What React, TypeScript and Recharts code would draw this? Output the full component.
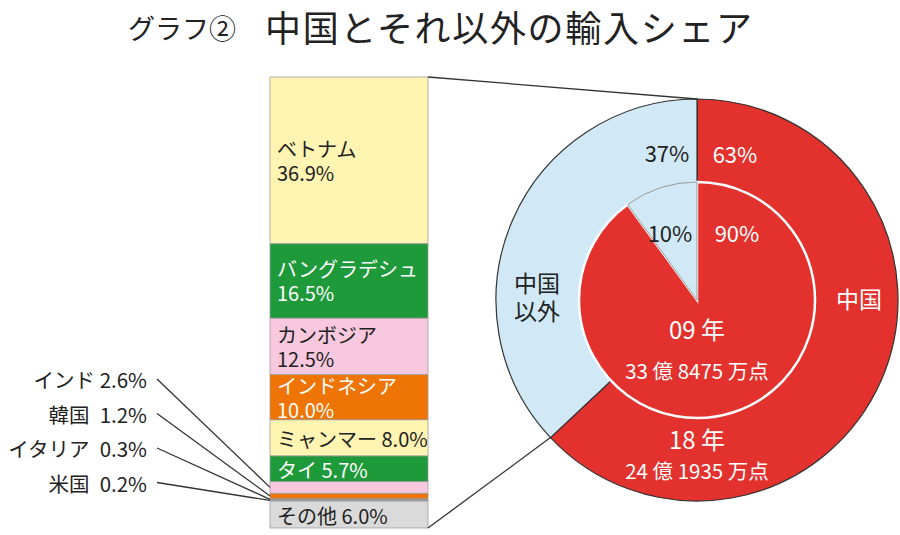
import React from 'react';
import { BarChart, Bar, XAxis, YAxis, LabelList, PieChart, Pie, Cell } from 'recharts';

const FONT = "'Noto Sans CJK JP', 'Noto Sans', sans-serif";

// ---- data ----
const countries = ['ベトナム', 'バングラデシュ', 'カンボジア', 'インドネシア', 'ミャンマー', 'タイ', 'インド', '韓国', 'イタリア', '米国', 'その他'];
const shares = [36.9, 16.5, 12.5, 10.0, 8.0, 5.7, 2.6, 1.2, 0.3, 0.2, 6.0];
const barColors = ['#FFF4B2', '#1E9A3B', '#F7C8DE', '#EE7405', '#FFF4B2', '#1E9A3B', '#F7C8DE', '#EE7405', '#8C8C8C', '#B5B5B5', '#DADADA'];
const labelModes = ['two', 'two', 'two', 'two', 'one', 'one', 'out', 'out', 'out', 'out', 'one'];
const labelColors = ['#222', '#fff', '#222', '#fff', '#222', '#fff', '#222', '#222', '#222', '#222', '#222'];

const groups = ['中国', '中国以外'];
const share2018 = [63, 37];
const share2009 = [90, 10];
const years = ['09 年', '18 年'];
const totals = ['33 億 8475 万点', '24 億 1935 万点'];
const titleSub = 'グラフ②';
const titleMain = '中国とそれ以外の輸入シェア';

const RED = '#E3312D';
const BLUE = '#D1E9F6';

// ---- layout ----
const W = 900;
const H = 535;
const BAR_LEFT = 270;
const BAR_RIGHT = 428;
const BAR_TOP = 77;
const BAR_BOTTOM = 528;
const CX = 697;
const CY = 300;
const R_OUT = 201;
const R_IN = 118;

const total = shares.reduce((a, b) => a + b, 0);
const barRow: Record<string, number | string> = { name: '2018' };
countries.forEach((_, i) => { barRow['c' + i] = shares[i]; });
const barData = [barRow];

const outerData = groups.map((g, i) => ({ name: g, value: share2018[i] }));
const innerData = groups.map((g, i) => ({ name: g, value: share2009[i] }));

const outIdx = labelModes.map((m, i) => (m === 'out' ? i : -1)).filter((i) => i >= 0);

function makeLabel(i: number) {
  return (props: any) => {
    const x = Number(props.x);
    const y = Number(props.y);
    const h = Number(props.height);
    const mid = y + h / 2;
    const mode = labelModes[i];
    const color = labelColors[i];
    const pct = shares[i].toFixed(1) + '%';
    if (mode === 'two') {
      return (
        <g>
          <text x={x + 7} y={mid - 12} fill={color} fontSize={20} fontFamily={FONT} dominantBaseline="central">{countries[i]}</text>
          <text x={x + 7} y={mid + 12} fill={color} fontSize={20} fontFamily={FONT} dominantBaseline="central">{pct}</text>
        </g>
      );
    }
    if (mode === 'one') {
      return (
        <text x={x + 7} y={mid + 1} fill={color} fontSize={20} fontFamily={FONT} dominantBaseline="central">{countries[i] + ' ' + pct}</text>
      );
    }
    const k = outIdx.indexOf(i);
    const ly = 379 + k * 34.5;
    const spacer = countries[i].length <= 2 || countries[i] === 'イタリア' ? '\u2002' : ' ';
    return (
      <g>
        <text x={147} y={ly} fill={color} fontSize={20.5} fontFamily={FONT} textAnchor="end" dominantBaseline="central">{countries[i] + spacer + pct}</text>
        <line x1={157} y1={ly} x2={x} y2={mid} stroke="#333" strokeWidth={1.3} />
      </g>
    );
  };
}

export default function App() {
  const boundaryAngle = (90 - (share2018[0] / 100) * 360) * (Math.PI / 180);
  const bx = CX + R_OUT * Math.cos(boundaryAngle);
  const by = CY - R_OUT * Math.sin(boundaryAngle);
  const order = countries.map((_, i) => i).reverse();
  return (
    <div style={{ position: 'absolute', left: 0, top: 0, width: W, height: H, background: '#fff' }}>
      <div style={{ position: 'absolute', left: 0, top: 0 }}>
        <BarChart width={W} height={H} data={barData} margin={{ top: BAR_TOP, right: W - BAR_RIGHT, bottom: H - BAR_BOTTOM, left: BAR_LEFT }} barCategoryGap={0} barGap={0}>
          <XAxis dataKey="name" type="category" hide />
          <YAxis type="number" domain={[0, total]} hide width={0} />
          {order.map((i) => (
            <Bar key={i} dataKey={'c' + i} stackId="a" fill={barColors[i]} stroke="#9c9c9c" strokeWidth={0.8} isAnimationActive={false}>
              <LabelList dataKey={'c' + i} content={makeLabel(i)} />
            </Bar>
          ))}
        </BarChart>
      </div>
      <div style={{ position: 'absolute', left: 0, top: 0 }}>
        <PieChart width={W} height={H} margin={{ top: 0, right: 0, bottom: 0, left: 0 }}>
          <Pie data={outerData} dataKey="value" cx={CX} cy={CY} outerRadius={R_OUT} innerRadius={0} startAngle={90} endAngle={-270} stroke="#333" strokeWidth={1.2} isAnimationActive={false}>
            <Cell fill={RED} />
            <Cell fill={BLUE} />
          </Pie>
          <Pie data={innerData} dataKey="value" cx={CX} cy={CY} outerRadius={R_IN} innerRadius={0} startAngle={90} endAngle={-270} isAnimationActive={false}>
            <Cell fill={RED} stroke="#fff" strokeWidth={2.5} />
            <Cell fill={BLUE} stroke="#9a9a9a" strokeWidth={1} />
          </Pie>
        </PieChart>
      </div>
      <svg width={W} height={H} style={{ position: 'absolute', left: 0, top: 0, pointerEvents: 'none' }}>
        <text x={128} y={27} fontSize={27} fontFamily={FONT} fill="#222" dominantBaseline="central">{titleSub}</text>
        <text x={265} y={26} fontSize={36} fontFamily={FONT} fill="#222" dominantBaseline="central" textLength={487} lengthAdjust="spacing">{titleMain}</text>
        <line x1={BAR_RIGHT} y1={BAR_TOP} x2={CX} y2={CY - R_OUT} stroke="#333" strokeWidth={1.3} />
        <line x1={BAR_RIGHT} y1={BAR_BOTTOM} x2={bx} y2={by} stroke="#333" strokeWidth={1.3} />
        <text x={735} y={153} fontSize={22} fontFamily={FONT} fill="#fff" textAnchor="middle" dominantBaseline="central">{share2018[0] + '%'}</text>
        <text x={667} y={152} fontSize={22} fontFamily={FONT} fill="#222" textAnchor="middle" dominantBaseline="central">{share2018[1] + '%'}</text>
        <text x={737} y={232} fontSize={22} fontFamily={FONT} fill="#fff" textAnchor="middle" dominantBaseline="central">{share2009[0] + '%'}</text>
        <text x={670} y={232} fontSize={22} fontFamily={FONT} fill="#222" textAnchor="middle" dominantBaseline="central">{share2009[1] + '%'}</text>
        <text x={859} y={298} fontSize={23} fontFamily={FONT} fill="#fff" textAnchor="middle" dominantBaseline="central">{groups[0]}</text>
        <text x={537} y={282} fontSize={23} fontFamily={FONT} fill="#222" textAnchor="middle" dominantBaseline="central">{groups[1].slice(0, 2)}</text>
        <text x={537} y={310} fontSize={23} fontFamily={FONT} fill="#222" textAnchor="middle" dominantBaseline="central">{groups[1].slice(2)}</text>
        <text x={CX} y={328} fontSize={24} fontFamily={FONT} fill="#fff" textAnchor="middle" dominantBaseline="central">{years[0]}</text>
        <text x={CX} y={370} fontSize={20.5} fontFamily={FONT} fill="#fff" textAnchor="middle" dominantBaseline="central">{totals[0]}</text>
        <text x={CX} y={438} fontSize={24} fontFamily={FONT} fill="#fff" textAnchor="middle" dominantBaseline="central">{years[1]}</text>
        <text x={CX} y={470} fontSize={20.5} fontFamily={FONT} fill="#fff" textAnchor="middle" dominantBaseline="central">{totals[1]}</text>
      </svg>
    </div>
  );
}
